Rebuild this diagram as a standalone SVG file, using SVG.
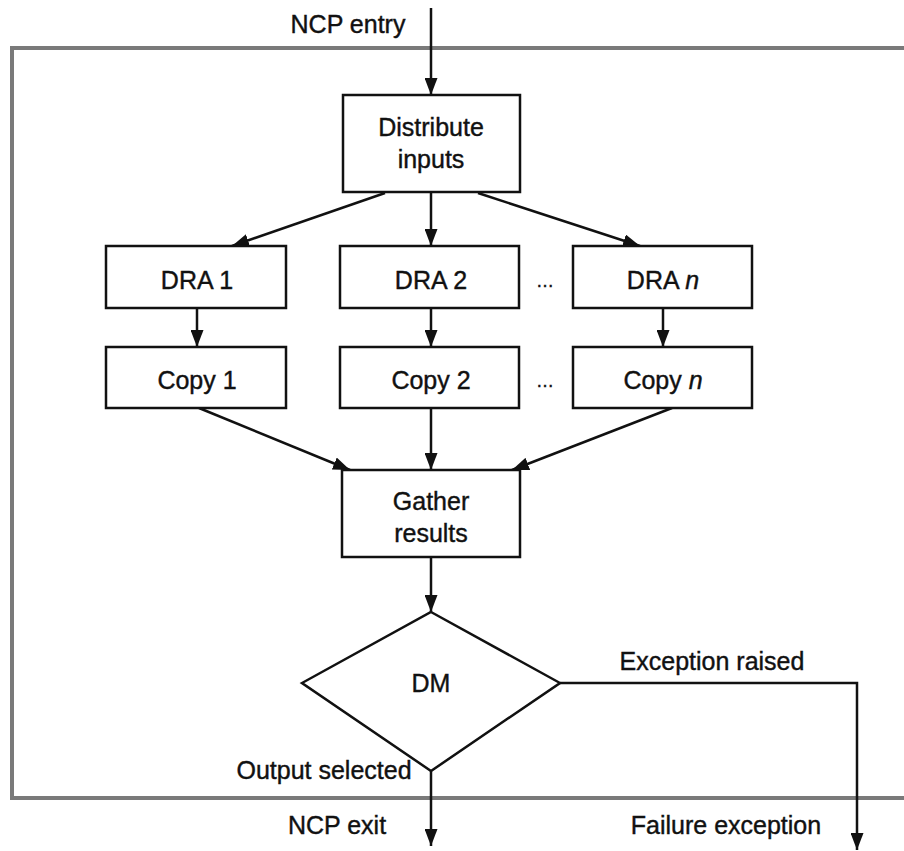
<svg xmlns="http://www.w3.org/2000/svg" width="904" height="851" viewBox="0 0 904 851">
<style>
.box{fill:#fff;stroke:#111;stroke-width:2.5}
.t{font-family:"Liberation Sans",Arial,sans-serif;font-size:25px;fill:#111;stroke:#111;stroke-width:0.4;text-anchor:middle}
.c{stroke:#111;stroke-width:2.5;fill:none;marker-end:url(#ah)}
</style>
<defs>
<marker id="ah" markerWidth="17" markerHeight="13" refX="17" refY="6.5" orient="auto" markerUnits="userSpaceOnUse">
<path d="M0,0 L17,6.5 L0,13 Z" fill="#111"/>
</marker>
</defs>
<rect x="12" y="48" width="930" height="750" fill="none" stroke="#7a7a7a" stroke-width="4"/>
<g id="connectors">
<line class="c" x1="431" y1="8" x2="431" y2="95"/>
<line class="c" x1="385" y1="193" x2="232" y2="246"/>
<line class="c" x1="431" y1="193" x2="431" y2="246"/>
<line class="c" x1="478" y1="193" x2="640" y2="246"/>
<line class="c" x1="197" y1="308" x2="197" y2="347"/>
<line class="c" x1="431" y1="308" x2="431" y2="347"/>
<line class="c" x1="663" y1="308" x2="663" y2="347"/>
<line class="c" x1="199" y1="408" x2="350" y2="470"/>
<line class="c" x1="431" y1="408" x2="431" y2="470"/>
<line class="c" x1="672" y1="408" x2="512" y2="470"/>
<line class="c" x1="431" y1="557" x2="431" y2="612"/>
<line class="c" x1="431" y1="771" x2="431" y2="846"/>
<polyline class="c" points="560,683 857,683 857,850"/>
</g>
<g id="distribute"><rect class="box" x="343" y="95" width="177" height="97"/><text class="t" x="431" y="136">Distribute</text><text class="t" x="431" y="168">inputs</text></g>
<g id="dra1"><rect class="box" x="106" y="246" width="180" height="62"/><text class="t" x="197" y="289">DRA 1</text></g>
<g id="dra2"><rect class="box" x="340" y="246" width="179" height="62"/><text class="t" x="431" y="289">DRA 2</text></g>
<g id="dran"><rect class="box" x="573" y="246" width="179" height="62"/><text class="t" x="663" y="289">DRA <tspan font-style="italic">n</tspan></text></g>
<g id="copy1"><rect class="box" x="106" y="347" width="180" height="61"/><text class="t" x="197" y="389">Copy 1</text></g>
<g id="copy2"><rect class="box" x="340" y="347" width="179" height="61"/><text class="t" x="431" y="389">Copy 2</text></g>
<g id="copyn"><rect class="box" x="573" y="347" width="179" height="61"/><text class="t" x="663" y="389">Copy <tspan font-style="italic">n</tspan></text></g>
<g id="gather"><rect class="box" x="342" y="470" width="178" height="87"/><text class="t" x="431" y="510">Gather</text><text class="t" x="431" y="542">results</text></g>
<g id="dm"><polygon class="box" points="431,612 560,683 431,771 302,683"/><text class="t" x="431" y="692">DM</text></g>
<text class="t" x="545" y="287" style="font-size:18px">…</text>
<text class="t" x="545" y="387" style="font-size:18px">…</text>
<g id="labels">
<text class="t" x="348" y="33">NCP entry</text>
<text class="t" x="712" y="670">Exception raised</text>
<text class="t" x="324" y="779">Output selected</text>
<text class="t" x="337" y="834">NCP exit</text>
<text class="t" x="726" y="834">Failure exception</text>
</g>
</svg>
